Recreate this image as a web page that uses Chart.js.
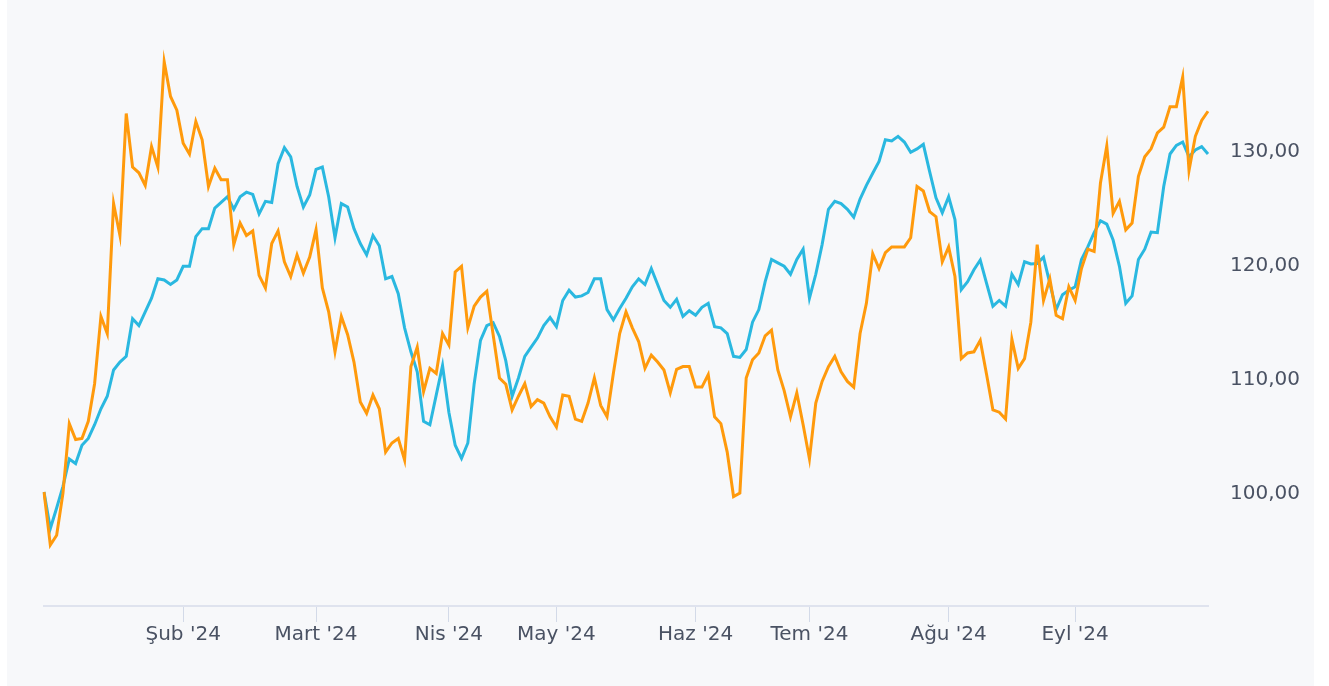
<!DOCTYPE html>
<html><head><meta charset="utf-8">
<script src="https://cdn.jsdelivr.net/npm/chart.js@4"></script>
<style>
html,body{margin:0;padding:0;background:#fff;width:1329px;height:686px;overflow:hidden}
#bg{position:absolute;left:7px;top:0;width:1307px;height:686px;background:#f7f8fa}
#c{position:absolute;left:0;top:0}
</style></head><body><div id="bg"></div><canvas id="c" width="1329" height="686"></canvas>
<script>
const monthNames = ['Oca','Şub','Mart','Nis','May','Haz','Tem','Ağu','Eyl'];
const daysPerMonth = [22,21,21,17,22,18,22,20,22];
const yTickValues = [100,110,120,130];

const orangeSeries = [
100.0,95.35,96.2,99.9,106.0,104.6,104.7,106.2,109.5,115.4,113.9,125.3,122.5,133.2,128.5,128.0,126.9,130.3,128.5,137.75,
134.7,133.5,130.6,129.65,132.5,130.9,126.8,128.4,127.4,127.4,121.7,123.6,122.5,122.9,119.0,117.9,121.8,122.9,120.2,118.9,
120.8,119.2,120.6,123.0,117.9,115.8,112.3,115.4,113.8,111.4,107.9,106.9,108.5,107.3,103.5,104.3,104.7,102.8,111.0,112.7,
108.8,110.85,110.4,113.9,112.9,119.3,119.8,114.4,116.3,117.1,117.6,113.8,110.0,109.45,107.2,108.4,109.5,107.5,108.1,107.8,
106.6,105.7,108.5,108.4,106.4,106.2,107.8,110.0,107.6,106.6,110.4,113.9,115.8,114.4,113.2,110.85,112.0,111.4,110.7,108.7,
110.75,111.0,111.0,109.2,109.2,110.3,106.6,106.0,103.5,99.6,99.9,110.0,111.6,112.2,113.7,114.2,110.7,108.9,106.6,108.7,
105.9,102.9,107.8,109.7,111.0,111.9,110.55,109.7,109.2,113.9,116.55,120.9,119.6,121.0,121.5,121.5,121.5,122.3,126.8,126.4,
124.6,124.15,120.2,121.5,118.9,111.7,112.2,112.3,113.3,110.3,107.2,107.0,106.4,113.4,110.85,111.7,114.9,121.7,116.8,118.7,
115.5,115.2,118.0,116.8,119.6,121.3,121.1,127.1,130.35,124.45,125.5,123.0,123.6,127.7,129.4,130.1,131.5,132.0,133.8,133.8,
136.4,128.2,131.2,132.6,133.4
];
const blueSeries = [
100.0,96.8,98.6,100.5,102.9,102.5,104.1,104.7,105.9,107.3,108.4,110.7,111.4,111.9,115.2,114.6,115.8,117.0,118.7,118.6,
118.2,118.6,119.8,119.8,122.4,123.1,123.1,124.9,125.4,125.9,124.8,125.9,126.3,126.1,124.4,125.5,125.4,128.8,130.2,129.4,
126.8,125.0,126.05,128.3,128.5,125.9,122.3,125.3,125.0,123.1,121.8,120.8,122.5,121.6,118.7,118.9,117.4,114.4,112.3,110.55,
106.2,105.9,108.5,111.1,107.0,104.1,102.95,104.3,109.5,113.3,114.6,114.85,113.65,111.5,108.4,110.0,111.9,112.7,113.5,114.6,
115.3,114.5,116.8,117.7,117.1,117.2,117.5,118.7,118.7,116.0,115.1,116.1,117.0,118.0,118.7,118.2,119.6,118.2,116.8,116.2,
116.9,115.4,115.9,115.5,116.2,116.55,114.5,114.4,113.9,111.9,111.8,112.5,114.9,116.0,118.45,120.4,120.1,119.8,119.1,120.4,
121.3,117.0,119.1,121.7,124.8,125.5,125.3,124.8,124.1,125.7,126.9,127.96,129.0,130.9,130.8,131.2,130.7,129.8,130.1,130.5,
128.1,125.8,124.5,125.9,123.9,117.75,118.45,119.5,120.35,118.3,116.3,116.8,116.3,119.1,118.2,120.2,120.0,120.05,120.6,118.3,
116.0,117.3,117.7,118.0,120.4,121.5,122.75,123.8,123.5,122.1,119.8,116.55,117.2,120.4,121.3,122.8,122.75,126.8,129.65,130.4,
130.7,129.4,130.0,130.3,129.65
];

const categories = [];
const monthStartIndex = [];
const monthTickLabels = [];
let k = 0;
monthNames.forEach((m, mi) => {
  if (mi > 0) { monthStartIndex.push(k); monthTickLabels.push(m + " '24"); }
  for (let d = 0; d < daysPerMonth[mi]; d++) categories.push(m + ' ' + (d + 1));
  k += daysPerMonth[mi];
});

const TXT = '#4a5263';

new Chart(document.getElementById('c').getContext('2d'), {
  type: 'line',
  data: {
    labels: categories,
    datasets: [
      {data: orangeSeries, borderColor: '#ff9a0c', borderWidth: 3, pointRadius: 0, tension: 0, fill: false},
      {data: blueSeries, borderColor: '#2ab8e0', borderWidth: 3, pointRadius: 0, tension: 0, fill: false}
    ]
  },
  options: {
    responsive: false, animation: false, devicePixelRatio: 1,
    layout: {padding: {left: 44, top: 36, right: 0, bottom: 0}},
    plugins: {legend: {display: false}, tooltip: {enabled: false}},
    scales: {
      x: {
        type: 'category', offset: false,
        grid: {display: true, drawOnChartArea: false, drawTicks: true, tickLength: 16, color: '#d3dae8', lineWidth: 1},
        border: {display: true, color: '#dfe3ee', width: 2},
        ticks: {autoSkip: false, maxRotation: 0, padding: 1, color: TXT, font: {family: 'DejaVu Sans', size: 20},
          callback: (v) => { const j = monthStartIndex.indexOf(v); return j >= 0 ? monthTickLabels[j] : ''; }},
        afterBuildTicks: (s) => { s.ticks = monthStartIndex.map(v => ({value: v})); },
        afterFit: (s) => { s.height = 80; }
      },
      y: {
        position: 'right', min: 90, max: 140,
        grid: {display: false}, border: {display: false},
        afterBuildTicks: (s) => { s.ticks = yTickValues.map(v => ({value: v})); },
        ticks: {padding: 14, color: TXT, font: {family: 'DejaVu Sans', size: 20, lineHeight: 0.2},
          callback: (v) => ['', v.toFixed(2).replace('.', ',')]},
        afterFit: (s) => { s.width = 121; }
      }
    }
  }
});
</script></body></html>
